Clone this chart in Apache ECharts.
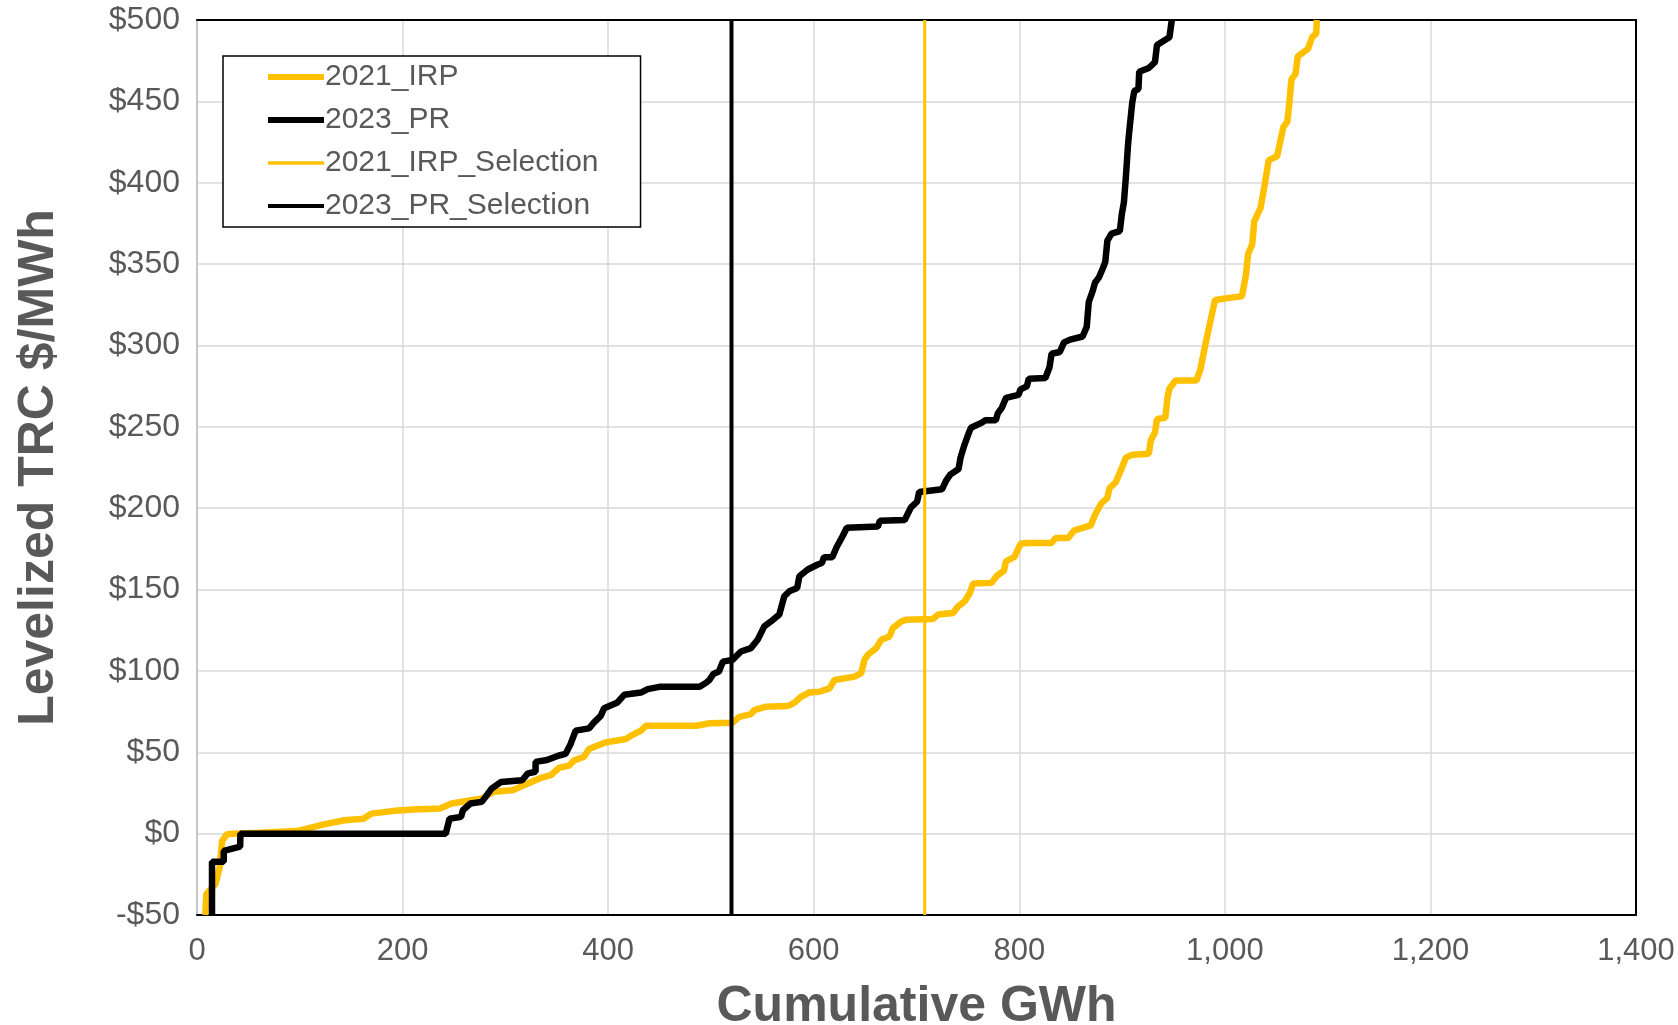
<!DOCTYPE html>
<html>
<head>
<meta charset="utf-8">
<title>Levelized TRC supply curve</title>
<script src="https://cdn.jsdelivr.net/npm/echarts@6/dist/echarts.min.js"></script>
<style>
  html, body { margin: 0; padding: 0; background: #fff; }
  #chart { width: 1678px; height: 1025px; }
</style>
</head>
<body>
<div id="chart"></div>
<script>
// 2021 IRP supply curve (cumulative GWh vs levelized TRC $/MWh)
const irpGwh = [8.1, 9.1, 17.9, 22, 24.4, 29.2, 35.7, 60, 97.4, 123.4, 143.5, 162, 169.6, 191.8, 210.4, 236.4,
  247.6, 277.3, 288.5, 307, 333.1, 344.2, 352.1, 361.9, 366.8, 376.5, 381.4, 397.7, 417.3, 422.2, 432, 436.8,
  485.8, 498.8, 521, 527.5, 538.9, 542.1, 553.5, 574.6, 581.1, 587.6, 595.8, 605.5, 615.3, 620.2, 639.7, 646.2,
  649.4, 652.7, 660.8, 665.7, 673.8, 677, 685.2, 690, 716, 721, 735.6, 740.5, 747, 751.9, 755.1, 773, 777.9,
  785.1, 787.1, 795.2, 801.2, 807.3, 831.4, 835.4, 847.5, 853.5, 869.6, 873.6, 879.7, 885.7, 887.7, 893.8,
  897.8, 903.8, 909.9, 926, 928, 932, 934, 942.1, 944.1, 946.1, 952.1, 972.3, 976.3, 980.3, 984.3, 988.4,
  990.4, 1002.5, 1016.6, 1020.5, 1022.6, 1026.6, 1028.6, 1034.7, 1038.7, 1042.7, 1050.8, 1052.8, 1056.8,
  1060.8, 1062.8, 1064.8, 1068.8, 1070.9, 1080.9, 1084.9, 1088.9, 1089.5];
const irpCost = [-50, -37, -31, -20.8, -4.5, -0.4, 0, 0.5, 1.6, 5.7, 8.2, 9.2, 12.3, 14, 14.8, 15.4,
  18.5, 21.6, 25.7, 26.7, 33.9, 35.9, 40.4, 41.8, 44.9, 47.3, 52, 56.1, 58.2, 60.2, 63.3, 66.3,
  66.3, 67.8, 68.1, 71.8, 73.4, 75.9, 78, 78.4, 80.4, 84.1, 86.8, 87.2, 89.3, 94.4, 96.5, 98.6,
  106.8, 109.9, 114, 119.1, 121.2, 126.3, 130.4, 131.5, 131.9, 134.6, 135.6, 139.7, 142.8, 147.9, 153.7, 154.1, 158.2,
  161.6, 167.5, 169.9, 178.1, 178.6, 178.6, 181.7, 181.7, 186.4, 189.5, 195.8, 202.9, 206.4, 212.3, 215.9,
  221.8, 231.2, 232.8, 233.5, 241.8, 246.5, 254.8, 255.5, 267.7, 273.6, 278.4, 278.4, 285.4, 298.4, 310.2, 322,
  327.9, 329.1, 330.2, 343.2, 356.2, 362.1, 376.2, 384.5, 398.6, 413.9, 416.3, 422.2, 434,
  437.5, 449.3, 463.5, 467, 477.6, 482.3, 489.4, 491.7, 500];

// 2023 PR supply curve
const prGwh = [14.6, 14.6, 26, 26, 42, 42.2, 242, 245.7, 256.9, 258.7, 266, 277, 280.7, 286.6, 295.9, 316.3,
  321.9, 329.4, 329.4, 340.5, 352.1, 358.6, 363.5, 368.4, 381.4, 386.3, 392.8, 396.1, 409.1, 415.6, 431.9, 438.5,
  449.9, 489, 495.5, 498.5, 502.3, 507.8, 511.6, 521, 529.2, 538.9, 545.4, 551.9, 558.4, 566.5, 571.4, 576.3,
  583.9, 586.1, 594.2, 604, 608, 610, 618.1, 622.1, 628.2, 632.2, 662.4, 664.4, 688.5, 694.6, 700.6, 702.6,
  724.8, 728.8, 732.8, 740.9, 742.9, 746.9, 751, 753, 763, 767, 777.1, 779.1, 783.1, 787.1, 799.2, 801.2,
  807.3, 809.3, 825.4, 829.4, 831.4, 839.4, 843.5, 849.5, 861.6, 865.6, 867.6, 871.6, 873.6, 877.7, 881.7,
  883.7, 885.7, 889.7, 897.8, 899.8, 901.8, 903.8, 905.8, 907, 909.9, 911.9, 915.9, 916.7, 926, 932, 934,
  946.1, 948.1, 948.5];
const prCost = [-50, -17.3, -17.3, -10.6, -8, 0, 0, 9.2, 10.3, 14.4, 18.5, 19.5, 22.6, 27.7, 31.8, 32.8,
  37, 38, 44.1, 45.2, 48, 49, 55.1, 63.3, 64.7, 68.4, 72.4, 77.1, 80.6, 85.3, 86.7, 88.8,
  90.2, 90.2, 92.8, 94.4, 98.1, 99.6, 105.7, 106.8, 111.9, 114, 119.1, 127.4, 130.4, 134.6, 145.9, 149,
  151, 158.2, 162.3, 165.4, 166.3, 169.9, 169.9, 175.8, 182.9, 188, 188.7, 192.3, 192.7, 200.5, 204, 210,
  211.6, 217, 220.6, 224.1, 231.2, 239.4, 246.5, 249.4, 252.4, 254, 254, 258.3, 261.8, 267.8, 269.6, 273,
  274.9, 279.6, 280, 286.6, 294.9, 296, 301.9, 303.6, 305.5, 311.4, 326.7, 333.8, 338.5, 342, 348,
  351.5, 364.4, 368.7, 370.3, 380.9, 388, 404.5, 423.4, 431.6, 449.3, 456.4, 457.6, 468.2, 470.5, 474.1, 484.7,
  489.4, 498.8, 500];

// selected cumulative GWh for each plan
const irpSelection = 708;
const prSelection = 520;

const xTicks = [0, 200, 400, 600, 800, 1000, 1200, 1400];
const yTicks = [-50, 0, 50, 100, 150, 200, 250, 300, 350, 400, 450, 500];

const YELLOW = "#FFC000";
const BLACK = "#000000";
const FONT = "Liberation Sans, Arial, sans-serif";
const TEXT = "#595959";

const zip = (xs, ys) => xs.map((x, i) => [x, ys[i]]);
const yMin = yTicks[0];
const yMax = yTicks[yTicks.length - 1];
const xMin = xTicks[0];
const xMax = xTicks[xTicks.length - 1];

// legend swatch: a horizontal bar, the leading moves keep the box 56x30
const bar = h => {
  const a = 15 - h / 2, b = 15 + h / 2;
  return `path://M0,0M56,30M0,${a}L56,${a}L56,${b}L0,${b}Z`;
};

const option = {
  animation: false,
  backgroundColor: "#fff",
  textStyle: { fontFamily: FONT },
  grid: { left: 197, right: 42, top: 20, bottom: 110, outerBoundsMode: "none" },
  legend: {
    orient: "vertical",
    left: 223,
    top: 56,
    padding: [6, 42, 6, 45],
    itemWidth: 56,
    itemHeight: 30,
    itemGap: 13,
    backgroundColor: "#fff",
    borderColor: "#000",
    borderWidth: 1.5,
    borderRadius: 0,
    textStyle: { fontSize: 30, color: TEXT, fontFamily: FONT, padding: [0, 0, 0, -4] },
    data: [
      { name: "2021_IRP", icon: bar(6) },
      { name: "2023_PR", icon: bar(6) },
      { name: "2021_IRP_Selection", icon: bar(3.5) },
      { name: "2023_PR_Selection", icon: bar(4) }
    ]
  },
  xAxis: [
    {
      type: "value",
      min: xMin,
      max: xMax,
      interval: 200,
      name: "Cumulative GWh",
      nameLocation: "middle",
      nameGap: 67,
      nameTextStyle: { fontSize: 50, fontWeight: "bold", color: TEXT, fontFamily: FONT },
      axisLine: { show: true, onZero: false, lineStyle: { color: "#000", width: 2 } },
      axisTick: { show: false },
      axisLabel: {
        fontSize: 31,
        color: TEXT,
        margin: 21,
        formatter: v => v.toLocaleString("en-US")
      },
      splitLine: { show: true, lineStyle: { color: "#d9d9d9", width: 1.5 } }
    },
    {
      type: "value",
      position: "top",
      min: xMin,
      max: xMax,
      interval: 200,
      axisLine: { show: true, onZero: false, lineStyle: { color: "#000", width: 2 } },
      axisTick: { show: false },
      axisLabel: { show: false },
      splitLine: { show: false }
    }
  ],
  yAxis: [
    {
      type: "value",
      min: yMin,
      max: yMax,
      interval: 50,
      name: "Levelized TRC $/MWh",
      nameLocation: "middle",
      nameGap: 133,
      nameTextStyle: { fontSize: 50, fontWeight: "bold", color: TEXT, fontFamily: FONT },
      axisLine: { show: true, onZero: false, lineStyle: { color: "#bfbfbf", width: 1.5 } },
      axisTick: { show: false },
      axisLabel: {
        fontSize: 32,
        color: TEXT,
        margin: 17,
        formatter: v => (v < 0 ? "-$" + Math.abs(v) : "$" + v)
      },
      splitLine: { show: true, lineStyle: { color: "#d9d9d9", width: 1.5 } }
    },
    {
      type: "value",
      position: "right",
      min: yMin,
      max: yMax,
      interval: 50,
      axisLine: { show: true, onZero: false, lineStyle: { color: "#000", width: 2 } },
      axisTick: { show: false },
      axisLabel: { show: false },
      splitLine: { show: false }
    }
  ],
  series: [
    {
      name: "2021_IRP",
      type: "line",
      symbol: "none",
      color: YELLOW,
      lineStyle: { color: YELLOW, width: 6.5 },
      data: zip(irpGwh, irpCost),
      z: 2
    },
    {
      name: "2023_PR",
      type: "line",
      symbol: "none",
      color: BLACK,
      lineStyle: { color: BLACK, width: 6.5 },
      data: zip(prGwh, prCost),
      z: 3
    },
    {
      name: "2021_IRP_Selection",
      type: "line",
      symbol: "none",
      color: YELLOW,
      lineStyle: { color: YELLOW, width: 3 },
      data: [[irpSelection, yMin], [irpSelection, yMax]],
      z: 4
    },
    {
      name: "2023_PR_Selection",
      type: "line",
      symbol: "none",
      color: BLACK,
      lineStyle: { color: BLACK, width: 4 },
      data: [[prSelection, yMin], [prSelection, yMax]],
      z: 5
    }
  ]
};

const chart = echarts.init(document.getElementById("chart"));
chart.setOption(option);
</script>
</body>
</html>
